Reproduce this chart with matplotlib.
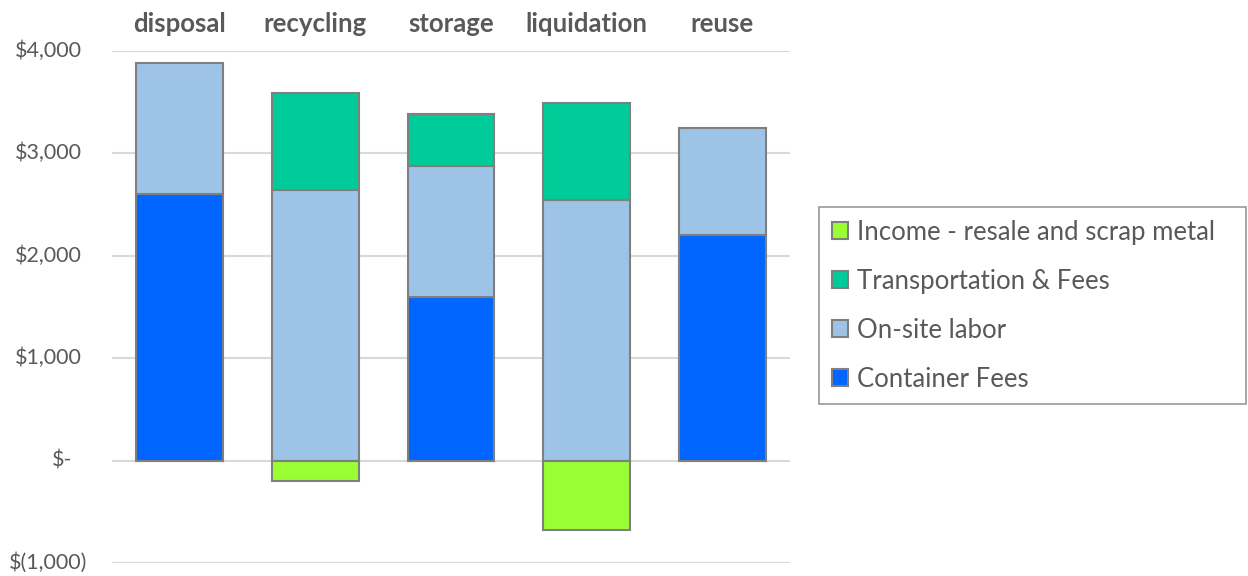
import matplotlib.pyplot as plt
from matplotlib.patches import Patch
import numpy as np

# --- DATA ---
categories = ['disposal', 'recycling', 'storage', 'liquidation', 'reuse']
container_fees = [2600, 0, 1600, 0, 2200]
onsite_labor = [1280, 2640, 1280, 2540, 1050]
transport_fees = [0, 950, 500, 950, 0]
income = [0, -200, 0, -680, 0]

yticks = [-1000, 0, 1000, 2000, 3000, 4000]

# --- STYLE ---
TEXT = '#595959'
EDGE = '#7f7f7f'
COLORS = {
    'Container Fees': '#0066ff',
    'On-site labor': '#9dc3e6',
    'Transportation & Fees': '#00cc99',
    'Income - resale and scrap metal': '#99ff33',
}
plt.rcParams['font.family'] = ['Lato', 'DejaVu Sans']

fig = plt.figure(figsize=(12.48, 5.76), dpi=100)
ax = fig.add_axes([0.0897, 0.0226, 0.5433, 0.8889])

x = np.arange(len(categories))
w = 0.64
kw = dict(width=w, edgecolor=EDGE, linewidth=1.5, zorder=3)

container = np.array(container_fees)
labor = np.array(onsite_labor)
transport = np.array(transport_fees)

b_cont = ax.bar(x, container, color=COLORS['Container Fees'], **kw)
b_lab = ax.bar(x, labor, bottom=container, color=COLORS['On-site labor'], **kw)
b_tr = ax.bar(x, transport, bottom=container + labor,
              color=COLORS['Transportation & Fees'], **kw)
b_inc = ax.bar(x, income, color=COLORS['Income - resale and scrap metal'], **kw)

# hide the zero-height segments so no stray edge lines show
for bars in (b_cont, b_lab, b_tr, b_inc):
    for rect in bars:
        if rect.get_height() == 0:
            rect.set_visible(False)

ax.set_xlim(-0.5, len(categories) - 0.5)
ax.set_ylim(-1000, 4000)

# accounting-style dollar labels, drawn by hand so the numbers line up
ax.set_yticks(yticks)
ax.set_yticklabels([])
ax.tick_params(axis='y', length=0)
ytrans = ax.get_yaxis_transform()
for v in yticks:
    if v == 0:
        s, xpos = '$-', -0.059
    elif v < 0:
        s, xpos = f'$({abs(v):,.0f})', -0.037
    else:
        s, xpos = f'${v:,.0f}', -0.044
    ax.text(xpos, v, s, transform=ytrans, ha='right', va='center',
            fontsize=15.5, color=TEXT)

ax.xaxis.tick_top()
ax.set_xticks(x)
ax.set_xticklabels(categories, fontweight='bold')
ax.tick_params(axis='x', length=0, pad=11, labelsize=18.5, labelcolor=TEXT)

ax.grid(axis='y', color='#d9d9d9', linewidth=1.5, zorder=0)
for s in ax.spines.values():
    s.set_visible(False)

# legend lists the series top of stack first
order = ['Income - resale and scrap metal', 'Transportation & Fees',
         'On-site labor', 'Container Fees']
handles = [Patch(facecolor=COLORS[k], edgecolor=EDGE, linewidth=1.5, label=k)
           for k in order]
leg = fig.legend(handles=handles, loc='upper left',
                 bbox_to_anchor=(819 / 1248, 1 - 207 / 576 - 0.01, 427 / 1248, 0.01),
                 mode='expand', fontsize=18.5, frameon=True, fancybox=False,
                 handlelength=0.62, handleheight=0.62, handletextpad=0.35,
                 labelspacing=0.93, borderpad=0.5, borderaxespad=0,
                 labelcolor=TEXT)
leg.get_frame().set_edgecolor(EDGE)
leg.get_frame().set_linewidth(1.2)

fig.savefig('out.png', dpi=100)
